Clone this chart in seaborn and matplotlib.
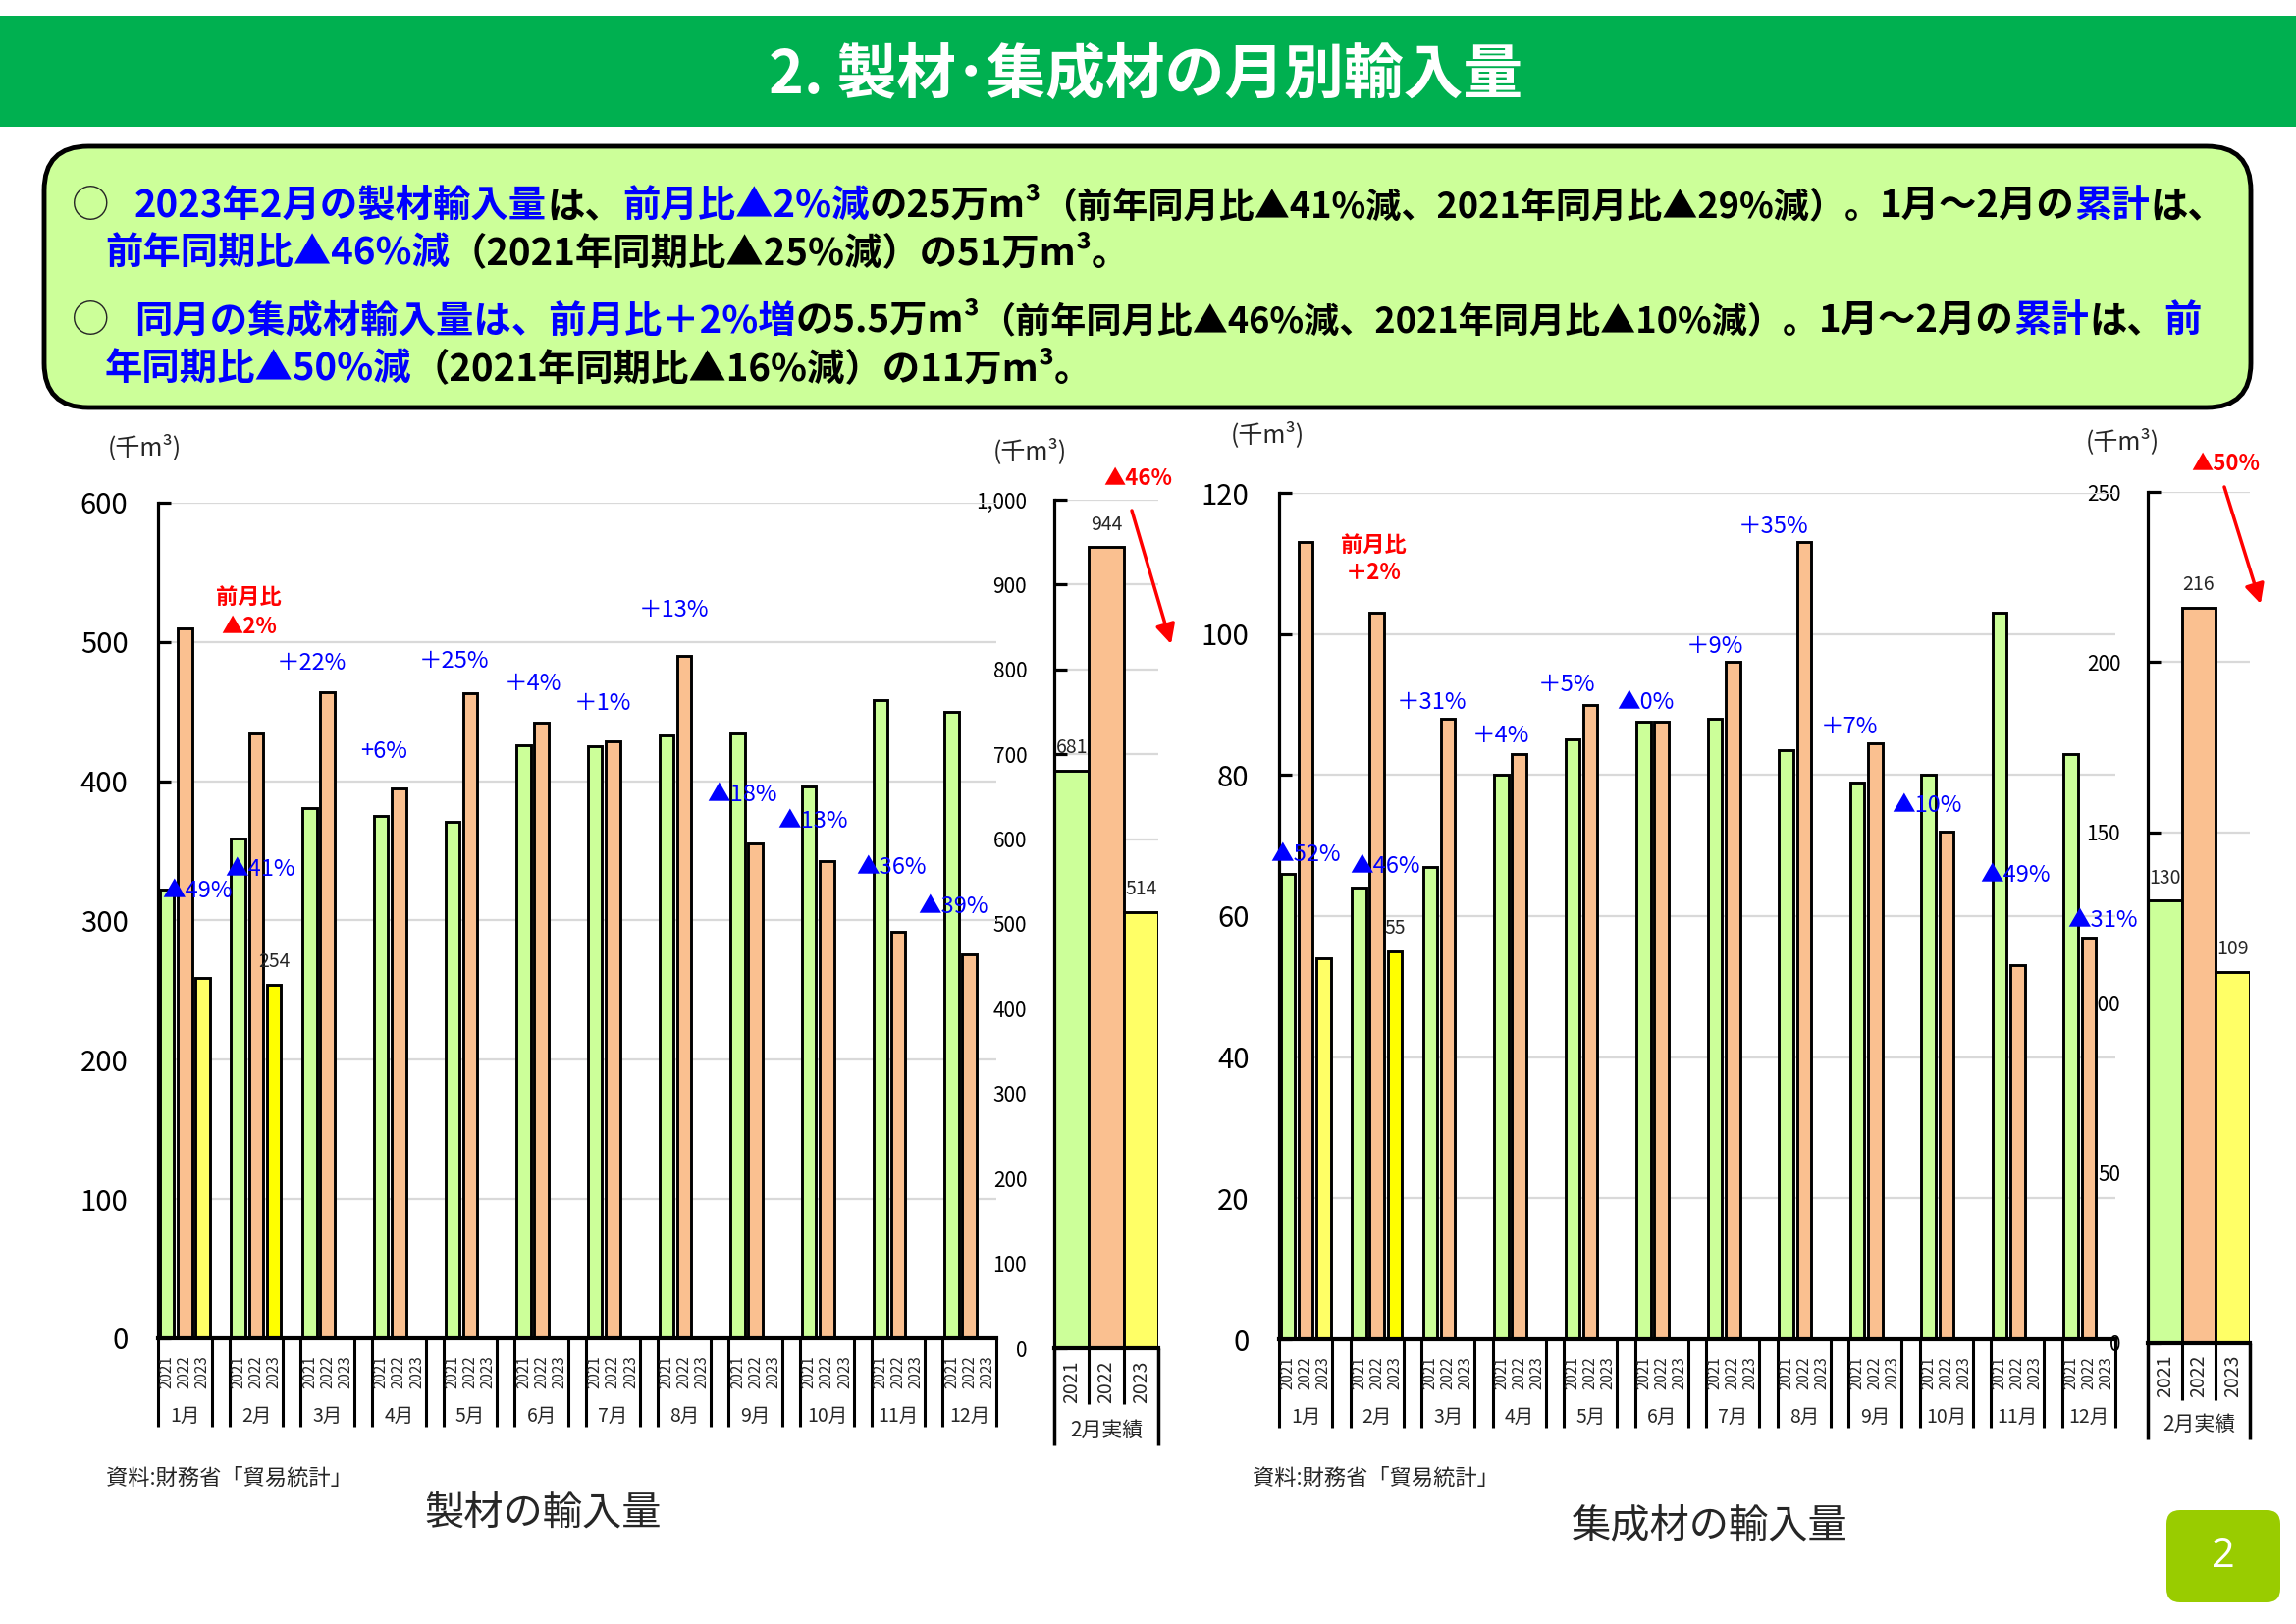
import numpy as np
import pandas as pd
import matplotlib
matplotlib.use("Agg")
import matplotlib.pyplot as plt
import matplotlib.transforms as mtrans
from matplotlib.patches import FancyBboxPatch, Rectangle, FancyArrowPatch
from matplotlib.ticker import FuncFormatter
import seaborn as sns

sns.set_theme(style="white")
plt.rcParams["font.family"] = ["Noto Sans CJK JP", "DejaVu Sans"]

# ---------------- data ----------------
months = ["1月", "2月", "3月", "4月", "5月", "6月", "7月", "8月", "9月", "10月", "11月", "12月"]
years = ["2021", "2022", "2023"]

lumber_2021 = [322, 359, 381, 375, 371, 426, 425, 433, 434, 396, 458, 450]
lumber_2022 = [510, 434, 464, 395, 463, 442, 429, 490, 355, 343, 292, 276]
lumber_2023 = [259, 254]
lumber_feb = [681, 944, 514]
lumber_pct = ["▲49%", "▲41%", "＋22%", "+6%", "＋25%", "＋4%", "＋1%", "＋13%",
              "▲18%", "▲13%", "▲36%", "▲39%"]
lumber_mom = ["前月比", "▲2%"]
lumber_yoy = "▲46%"

glulam_2021 = [66, 64, 67, 80, 85, 87.5, 88, 83.5, 79, 80, 103, 83]
glulam_2022 = [113, 103, 88, 83, 90, 87.5, 96, 113, 84.5, 72, 53, 57]
glulam_2023 = [54, 55]
glulam_feb = [130, 216, 109]
glulam_pct = ["▲52%", "▲46%", "＋31%", "＋4%", "＋5%", "▲0%", "＋9%", "＋35%",
              "＋7%", "▲10%", "▲49%", "▲31%"]
glulam_mom = ["前月比", "＋2%"]
glulam_yoy = "▲50%"

# annotation anchor positions (slot, value) - layout only
lumber_pct_pos = [(1.7, 321), (5.25, 337), (8.1, 485), (12.15, 421), (16.1, 486), (20.5, 470),
                  (24.45, 456), (28.4, 523), (32.25, 390), (36.2, 371), (40.6, 338), (44.1, 310)]
glulam_pct_pos = [(1.0, 68.7), (5.45, 67), (8.1, 90.3), (11.95, 85.5), (15.65, 92.8), (20.1, 90.3),
                  (24.0, 98.2), (27.3, 115.2), (31.55, 86.8), (35.9, 75.6), (40.9, 65.8), (45.8, 59.4)]

# ---------------- style ----------------
C21, C22, C23, C23CUR = "#ccff99", "#fac090", "#ffff66", "#ffff00"
GRID = "#d9d9d9"
BLUE = "#0000ff"
RED = "#ff0000"

W, H, DPI = 2339, 1654, 100
fig = plt.figure(figsize=(W / DPI, H / DPI), dpi=DPI)
fig.patch.set_facecolor("white")
renderer = fig.canvas.get_renderer()
ID = mtrans.IdentityTransform()


def px_axes(l, t, r, b, z):
    ax = fig.add_axes([l / W, 1 - b / H, (r - l) / W, (b - t) / H])
    ax.set_zorder(z)
    return ax


def ftext(x, y, s, **kw):
    return fig.text(x / W, 1 - y / H, s, **kw)


def style_axis(ax, ymax, ystep, labelsize, pad, fmt=None):
    ax.set_ylim(0, ymax)
    ax.set_yticks(np.arange(0, ymax + 0.01, ystep))
    ax.yaxis.grid(True, color=GRID, lw=1.6)
    ax.xaxis.grid(False)
    ax.set_axisbelow(True)
    for s in ("top", "right"):
        ax.spines[s].set_visible(False)
    ax.spines["left"].set_color("black")
    ax.spines["left"].set_linewidth(2.3)
    ax.spines["bottom"].set_color("black")
    ax.spines["bottom"].set_linewidth(3)
    ax.tick_params(axis="y", left=True, direction="in", length=9, width=2.3,
                   color="black", labelsize=labelsize, pad=pad, labelcolor="black")
    ax.set_xticks([])
    ax.set_xlabel("")
    ax.set_ylabel("")
    if fmt:
        ax.yaxis.set_major_formatter(FuncFormatter(fmt))


def draw_main(ax, v21, v22, v23, ymax, ystep, h_px, pct, pct_pos, mom, mom_pos):
    rows = []
    for m in range(len(months)):
        rows.append((4 * m, v21[m], "2021"))
        rows.append((4 * m + 1, v22[m], "2022"))
    for m, v in enumerate(v23):
        rows.append((4 * m + 2, v, "2023cur" if m == len(v23) - 1 else "2023"))
    df = pd.DataFrame(rows, columns=["pos", "value", "kind"])
    sns.barplot(data=df, x="pos", y="value", hue="kind", native_scale=True, dodge=False,
                palette={"2021": C21, "2022": C22, "2023": C23, "2023cur": C23CUR},
                saturation=1, width=0.8, edgecolor="black", linewidth=2.1,
                errorbar=None, legend=False, ax=ax)
    ax.set_facecolor("none")
    ax.set_xlim(-0.5, 4 * (len(months) - 1) + 2.5)
    style_axis(ax, ymax, ystep, 21, 22)
    bl = mtrans.blended_transform_factory(ax.transData, ax.transAxes)
    for m in range(len(months)):
        for xs in (4 * m - 0.5, 4 * m + 2.5):
            ax.plot([xs, xs], [0, -90 / h_px], color="black", lw=2.2, transform=bl,
                    clip_on=False, solid_capstyle="butt")
        for j, y in enumerate(years):
            ax.text(4 * m + j, -34 / h_px, y, rotation=90, ha="center", va="center",
                    fontsize=11, transform=bl)
        ax.text(4 * m + 1, -79 / h_px, months[m], ha="center", va="center",
                fontsize=14, transform=bl)
    # current month value label
    cur = len(v23) - 1
    ax.annotate(f"{v23[cur]:g}", (4 * cur + 2, v23[cur]), xytext=(0, 9),
                textcoords="offset points", ha="center", va="bottom", fontsize=14)
    # change rate labels
    for s, (x, y) in zip(pct, pct_pos):
        ax.text(x, y, s, color=BLUE, fontsize=17, ha="center", va="center")
    (mx, my1, my2) = mom_pos
    ax.text(mx, my1, mom[0], color=RED, fontsize=16, fontweight="bold", ha="center", va="center")
    ax.text(mx, my2, mom[1], color=RED, fontsize=16, fontweight="bold", ha="center", va="center")


def draw_panel(ax, vals, pmax, pstep, h_px, fmt, inner, outer, ylab, ymon):
    df = pd.DataFrame({"year": years, "value": vals})
    sns.barplot(data=df, x="year", y="value", hue="year", palette=[C21, C22, C23],
                saturation=1, width=1.0, edgecolor="black", linewidth=2.1,
                errorbar=None, legend=False, ax=ax)
    ax.set_xlim(-0.5, 2.5)
    style_axis(ax, pmax, pstep, 15, 20, fmt)
    bl = mtrans.blended_transform_factory(ax.transData, ax.transAxes)
    for xs in (-0.5, 2.5):
        ax.plot([xs, xs], [0, -outer / h_px], color="black", lw=2.5, transform=bl,
                clip_on=False, solid_capstyle="butt")
    for xs in (0.5, 1.5):
        ax.plot([xs, xs], [0, -inner / h_px], color="black", lw=2.2, transform=bl,
                clip_on=False, solid_capstyle="butt")
    for j, y in enumerate(years):
        ax.text(j, -ylab / h_px, y, rotation=90, ha="center", va="center", fontsize=14, transform=bl)
    ax.text(1, -ymon / h_px, "2月実績", ha="center", va="center", fontsize=15, transform=bl)
    for j, v in enumerate(vals):
        ax.annotate(f"{v:g}", (j, v), xytext=(0, 9), textcoords="offset points",
                    ha="center", va="bottom", fontsize=14)


# ---------------- header ----------------
fig.add_artist(Rectangle((0, H - 129), W, 113, transform=ID, fc="#00b050", ec="none"))
title = "2. 製材･集成材の月別輸入量"
t = ftext(0, 0, title, fontsize=10, fontweight="bold")
tw = t.get_window_extent(renderer=renderer).width
t.remove()
ftext(1167, 77, title, fontsize=10 * 768 / tw, fontweight="bold", color="white",
      ha="center", va="center")

# ---------------- summary box ----------------
fig.add_artist(FancyBboxPatch((45, H - 415), 2248, 266, boxstyle="round,pad=0,rounding_size=45",
                              transform=ID, fc="#ccff99", ec="black", lw=3.5))

BOXW = "bold"


def seg_width(s, size):
    tt = ftext(0, 0, s, fontsize=size, fontweight=BOXW)
    w = tt.get_window_extent(renderer=renderer).width
    tt.remove()
    return w


line1 = [("2023年2月の製材輸入量", BLUE, "m"), ("は、", "black", "m"), ("前月比▲2%減", BLUE, "m"),
         ("の25万m³", "black", "m"), ("（前年同月比▲41%減、2021年同月比▲29%減）。", "black", "s"),
         ("1月～2月の", "black", "m"), ("累計", BLUE, "m"), ("は、", "black", "m")]
line2 = [("前年同期比▲46%減", BLUE, "m"), ("（2021年同期比▲25%減）の51万m³。", "black", "m")]
line3 = [("同月の集成材輸入量は、前月比＋2%増", BLUE, "m"), ("の5.5万m³", "black", "m"),
         ("（前年同月比▲46%減、2021年同月比▲10%減）。", "black", "s"),
         ("1月～2月の", "black", "m"), ("累計", BLUE, "m"), ("は、", "black", "m"), ("前", BLUE, "m")]
line4 = [("年同期比▲50%減", BLUE, "m"), ("（2021年同期比▲16%減）の11万m³。", "black", "m")]

w2 = sum(seg_width(s, 10) for s, _, _ in line2)
msize = 10 * 1045 / w2
wm = sum(seg_width(s, msize) for s, _, k in line1 if k == "m")
ws = sum(seg_width(s, 10) for s, _, k in line1 if k == "s")
ssize = min(msize, 10 * (2130 - wm) / ws)


def draw_line(x0, yb, segs):
    x = x0
    for s, col, k in segs:
        tt = ftext(x, yb, s, color=col, fontsize=msize if k == "m" else ssize,
                   fontweight=BOXW, ha="left", va="baseline")
        x += tt.get_window_extent(renderer=renderer).width


ftext(72, 221, "○", fontsize=msize, ha="left", va="baseline")
ftext(72, 338, "○", fontsize=msize, ha="left", va="baseline")
draw_line(137, 221, line1)
draw_line(107, 269, line2)
draw_line(137, 338, line3)
draw_line(107, 387, line4)

# ---------------- lumber chart ----------------
axp1 = px_axes(1074, 509, 1180, 1373, 1)
draw_panel(axp1, lumber_feb, 1000, 100, 1373 - 509, lambda v, p: f"{v:,.0f}", 57, 99, 34, 84)
ax1 = px_axes(161, 512, 1015, 1363, 3)
draw_main(ax1, lumber_2021, lumber_2022, lumber_2023, 600, 100, 1363 - 512,
          lumber_pct, lumber_pct_pos, lumber_mom, (4.6, 532, 511))

# ---------------- glulam chart ----------------
axp2 = px_axes(2188, 501, 2292, 1368, 1)
draw_panel(axp2, glulam_feb, 250, 50, 1368 - 501, lambda v, p: f"{v:,.0f}", 58, 98, 33, 83)
ax2 = px_axes(1303, 502, 2155, 1364, 3)
draw_main(ax2, glulam_2021, glulam_2022, glulam_2023, 120, 20, 1364 - 502,
          glulam_pct, glulam_pct_pos, glulam_mom, (4.8, 112.5, 108.6))

# ---------------- units, yoy arrows ----------------
for (x, y) in [(147, 456), (1049, 460), (1291, 443), (2162, 450)]:
    ftext(x, y, "(千m³)", fontsize=18, ha="center", va="center", zorder=10)

ftext(1159, 487, lumber_yoy, color=RED, fontsize=16, fontweight="bold", ha="center",
      va="center", zorder=10)
ftext(2267, 473, glulam_yoy, color=RED, fontsize=16, fontweight="bold", ha="center",
      va="center", zorder=10)
for (xa, ya, xb, yb) in [(1153, 520, 1193, 656), (2266, 496, 2303, 615)]:
    fig.add_artist(FancyArrowPatch((xa, H - ya), (xb, H - yb), transform=ID, arrowstyle="-|>",
                                   mutation_scale=30, lw=2.5, color=RED, shrinkA=0, shrinkB=0,
                                   zorder=10))

# ---------------- footers ----------------
ftext(108, 1505, "資料:財務省「貿易統計」", fontsize=16, ha="left", va="center")
ftext(1276, 1505, "資料:財務省「貿易統計」", fontsize=16, ha="left", va="center")
ftext(553, 1541, "製材の輸入量", fontsize=29, ha="center", va="center")
ftext(1742, 1554, "集成材の輸入量", fontsize=29, ha="center", va="center")

fig.add_artist(FancyBboxPatch((2207, H - 1632), 116, 94, boxstyle="round,pad=0,rounding_size=14",
                              transform=ID, fc="#99cc00", ec="none"))
ftext(2265, 1585, "2", fontsize=30, color="white", ha="center", va="center",
      family=["Open Sans", "DejaVu Sans"])

fig.savefig("out.png", dpi=DPI)
